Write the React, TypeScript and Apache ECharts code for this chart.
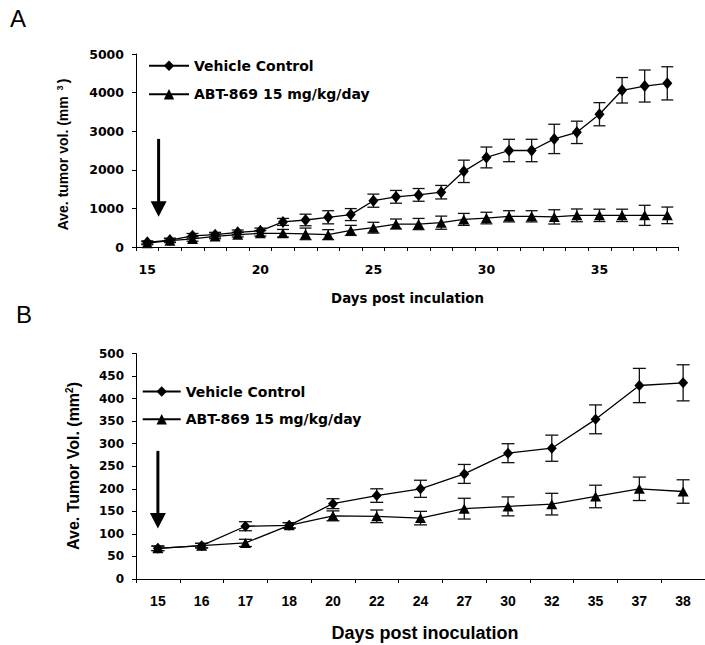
import React, { useEffect, useRef } from "react";
import * as echarts from "echarts";

// ---------- Panel A ----------
const daysA = ["15","16","17","18","19","20","21","22","23","24","25","26","27","28","29","30","31","32","33","34","35","36","37","38"];
const vehicleA = [120, 180, 290, 320, 380, 420, 650, 700, 770, 840, 1200, 1300, 1350, 1420, 1960, 2320, 2500, 2500, 2800, 2970, 3440, 4060, 4170, 4240];
const vehicleAErr = [40, 50, 60, 60, 60, 70, 90, 150, 170, 155, 170, 165, 165, 175, 290, 270, 290, 290, 380, 290, 300, 330, 415, 430];
const abtA = [100, 165, 210, 275, 320, 355, 355, 340, 320, 430, 500, 595, 595, 630, 715, 750, 795, 795, 780, 820, 820, 820, 820, 820];
const abtAErr = [40, 50, 60, 60, 60, 70, 100, 150, 130, 130, 140, 130, 145, 170, 155, 150, 145, 145, 185, 165, 160, 160, 260, 215];
const arrowA = { fromIdx: 0, toIdx: 1, top: 2800, tip: 785 };

// ---------- Panel B ----------
const daysB = ["15","16","17","18","20","22","24","27","30","32","35","37","38"];
const vehicleB = [68, 74, 117, 119, 167, 185, 200, 233, 279, 290, 354, 429, 435];
const vehicleBErr = [5, 5, 10, 6, 11, 15, 19, 21, 21, 29, 32, 38, 40];
const abtB = [68, 74, 80, 119, 140, 139, 135, 156, 161, 166, 183, 200, 194];
const abtBErr = [5, 5, 8, 6, 11, 14, 15, 23, 21, 24, 25, 26, 26];
const arrowB = { idx: 0, top: 284, tip: 112 };

const NAME_V = "Vehicle Control";
const NAME_T = "ABT-869 15 mg/kg/day";

const DJ = "DejaVu Sans";
const LIB = "Liberation Sans, Arial, sans-serif";

function errData(vals: number[], errs: number[]) {
  return vals.map((v, i) => [i, v - errs[i], v + errs[i]]);
}

function errSeries(idx: number, vals: number[], errs: number[], half: number, name: string) {
  return {
    type: "custom",
    name,
    xAxisIndex: idx,
    yAxisIndex: idx,
    z: 1,
    silent: true,
    data: errData(vals, errs),
    renderItem: (params: any, api: any) => {
      const x = api.value(0);
      const lo = api.coord([x, api.value(1)]);
      const hi = api.coord([x, api.value(2)]);
      const st = { stroke: "#111", lineWidth: 1.3 };
      return {
        type: "group",
        children: [
          { type: "line", shape: { x1: hi[0], y1: hi[1], x2: lo[0], y2: lo[1] }, style: st },
          { type: "line", shape: { x1: hi[0] - half, y1: hi[1], x2: hi[0] + half, y2: hi[1] }, style: st },
          { type: "line", shape: { x1: lo[0] - half, y1: lo[1], x2: lo[0] + half, y2: lo[1] }, style: st },
        ],
      };
    },
  };
}

function lineSeries(idx: number, name: string, data: number[], symbol: string, size: number[]) {
  return {
    type: "line",
    name,
    xAxisIndex: idx,
    yAxisIndex: idx,
    z: 3,
    data,
    symbol,
    symbolSize: size,
    showAllSymbol: true,
    lineStyle: { color: "#000", width: 1.3 },
    itemStyle: { color: "#000", borderWidth: 0 },
  };
}

const axisLineStyle = { lineStyle: { color: "#000", width: 1 } };
const plain = (v: number) => String(v);

export default function App() {
  const ref = useRef<HTMLDivElement>(null);
  useEffect(() => {
    document.body.style.margin = "0";
    if (!ref.current) return;
    const chart = echarts.init(ref.current, undefined, { renderer: "svg" });
    const option: any = {
      animation: false,
      backgroundColor: "#fff",
      grid: [
        { left: 136, top: 54, width: 542.6, height: 193 },
        { left: 136, top: 353.5, width: 580.7, height: 225.5 },
      ],
      xAxis: [
        {
          type: "category",
          gridIndex: 0,
          data: daysA,
          boundaryGap: true,
          axisLine: axisLineStyle,
          axisTick: { show: true, interval: 0, length: 4, lineStyle: { color: "#000" } },
          axisLabel: { interval: 4, margin: 16, fontFamily: DJ, fontWeight: "bold", fontSize: 12.5, color: "#000" },
          splitLine: { show: false },
        },
        {
          type: "category",
          gridIndex: 1,
          data: daysB,
          boundaryGap: true,
          axisLine: axisLineStyle,
          axisTick: { show: true, interval: 0, length: 4, lineStyle: { color: "#000" } },
          axisLabel: { interval: 0, margin: 15, fontFamily: LIB, fontWeight: "bold", fontSize: 14, color: "#000" },
          splitLine: { show: false },
        },
      ],
      yAxis: [
        {
          type: "value",
          gridIndex: 0,
          min: 0,
          max: 5000,
          interval: 1000,
          axisLine: { show: true, ...axisLineStyle },
          axisTick: { show: true, length: 4, lineStyle: { color: "#000" } },
          axisLabel: { margin: 12, formatter: plain, fontFamily: DJ, fontWeight: "bold", fontSize: 12.5, color: "#000" },
          splitLine: { show: false },
        },
        {
          type: "value",
          gridIndex: 1,
          min: 0,
          max: 500,
          interval: 50,
          axisLine: { show: true, ...axisLineStyle },
          axisTick: { show: true, length: 4, lineStyle: { color: "#000" } },
          axisLabel: { margin: 12, formatter: plain, fontFamily: DJ, fontWeight: "bold", fontSize: 12, color: "#000" },
          splitLine: { show: false },
        },
      ],
      legend: [
        {
          left: 148, top: 58.8, orient: "vertical", itemWidth: 40, itemHeight: 13, itemGap: 14.4, padding: 0,
          selectedMode: false, data: [NAME_V, NAME_T],
          textStyle: { fontFamily: DJ, fontWeight: "bold", fontSize: 14, color: "#000" },
        },
        {
          left: 141.7, top: 384.5, orient: "vertical", itemWidth: 38, itemHeight: 13, itemGap: 13.7, padding: 0,
          selectedMode: false, data: [NAME_V, NAME_T],
          textStyle: { fontFamily: DJ, fontWeight: "bold", fontSize: 14, color: "#000" },
        },
      ],
      series: [
        errSeries(0, vehicleA, vehicleAErr, 6, "errVA"),
        errSeries(0, abtA, abtAErr, 6, "errTA"),
        lineSeries(0, NAME_V, vehicleA, "diamond", [10, 12]),
        lineSeries(0, NAME_T, abtA, "triangle", [11, 10]),
        errSeries(1, vehicleB, vehicleBErr, 6.5, "errVB"),
        errSeries(1, abtB, abtBErr, 6.5, "errTB"),
        lineSeries(1, NAME_V, vehicleB, "diamond", [10, 11]),
        lineSeries(1, NAME_T, abtB, "triangle", [11, 10]),
      ],
    };
    chart.setOption(option);

    // arrows, positioned through the axes
    const a0 = chart.convertToPixel({ gridIndex: 0 }, [arrowA.fromIdx, arrowA.top]) as number[];
    const a1 = chart.convertToPixel({ gridIndex: 0 }, [arrowA.toIdx, arrowA.tip]) as number[];
    const ax = (a0[0] + a1[0]) / 2;
    const aTop = a0[1];
    const aTip = a1[1];
    const b0 = chart.convertToPixel({ gridIndex: 1 }, [arrowB.idx, arrowB.top]) as number[];
    const b1 = chart.convertToPixel({ gridIndex: 1 }, [arrowB.idx, arrowB.tip]) as number[];
    const bx = b0[0];
    const bTop = b0[1];
    const bTip = b1[1];
    const headH = 15.5;
    const headW = 8;
    const arrow = (x: number, top: number, tip: number) => [
      { type: "line", shape: { x1: x, y1: top, x2: x, y2: tip - headH + 1 }, style: { stroke: "#000", lineWidth: 3 } },
      { type: "polygon", shape: { points: [[x - headW, tip - headH], [x + headW, tip - headH], [x, tip]] }, style: { fill: "#000" } },
    ];

    chart.setOption({
      graphic: [
        { type: "text", left: 10, top: 6, style: { text: "A", font: "normal 24px Liberation Sans, Arial", fill: "#000" } },
        { type: "text", left: 16, top: 302, style: { text: "B", font: "normal 24px Liberation Sans, Arial", fill: "#000" } },
        {
          type: "text", x: 63, y: 154.5, rotation: Math.PI / 2,
          style: {
            text: "{a|Ave. tumor vol. (mm }{s|3}{a|)}",
            align: "center", verticalAlign: "middle",
            rich: {
              a: { fontFamily: LIB, fontWeight: "bold", fontSize: 14, fill: "#000" },
              s: { fontFamily: LIB, fontWeight: "bold", fontSize: 9, fill: "#000", verticalAlign: "top", padding: [0, 2, 6, 2] },
            },
          },
        },
        {
          type: "text", x: 73, y: 466, rotation: Math.PI / 2,
          style: {
            text: "{a|Ave. Tumor Vol. (mm}{s|2}{a|)}",
            align: "center", verticalAlign: "middle",
            rich: {
              a: { fontFamily: LIB, fontWeight: "bold", fontSize: 16, fill: "#000" },
              s: { fontFamily: LIB, fontWeight: "bold", fontSize: 10, fill: "#000", verticalAlign: "top", padding: [0, 0, 7, 0] },
            },
          },
        },
        {
          type: "text", x: 407.5, y: 298,
          style: { text: "Days post inculation", align: "center", verticalAlign: "middle", font: "bold 13.3px DejaVu Sans", fill: "#000" },
        },
        {
          type: "text", x: 425, y: 633,
          style: { text: "Days post inoculation", align: "center", verticalAlign: "middle", font: "bold 18px Liberation Sans, Arial", fill: "#000" },
        },
        ...arrow(ax, aTop, aTip),
        ...arrow(bx, bTop, bTip),
      ],
    });

    return () => chart.dispose();
  }, []);
  return <div ref={ref} style={{ width: 705, height: 645 }} />;
}
